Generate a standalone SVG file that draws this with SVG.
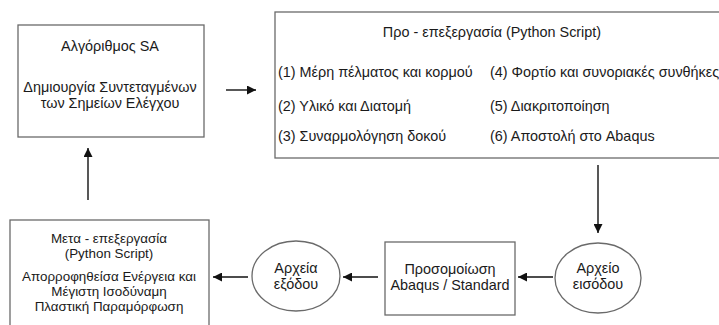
<svg xmlns="http://www.w3.org/2000/svg" width="719" height="325" viewBox="0 0 719 325">
<defs>
<style>
.n{fill:#fff;stroke:#6a6a6a;stroke-width:1.3}
.t{font-family:"Liberation Sans",Arial,sans-serif;font-size:14.4px;fill:#1a1a1a}
.s{font-size:13.4px}
.c{text-anchor:middle}
.e{stroke:#111;stroke-width:1.4;fill:none;marker-end:url(#ah)}
</style>
<marker id="ah" viewBox="0 0 10 10" refX="10" refY="5" markerWidth="9" markerHeight="9" markerUnits="userSpaceOnUse" orient="auto">
<path d="M0,0 L10,5 L0,10 z" fill="#111"/>
</marker>
</defs>
<rect width="719" height="325" fill="#fff"/>
<g id="sa">
<rect class="n" x="18" y="25" width="186" height="112"/>
<text class="t c" x="110" y="51">Αλγόριθμος SA</text>
<text class="t c" x="110" y="92">Δημιουργία Συντεταγμένων</text>
<text class="t c" x="110" y="108">των Σημείων Ελέγχου</text>
</g>
<g id="pre">
<rect class="n" x="275" y="12" width="470" height="146"/>
<text class="t c" x="492" y="37">Προ - επεξεργασία (Python Script)</text>
<text class="t" x="278" y="77">(1) Μέρη πέλματος και κορμού</text>
<text class="t" x="278" y="111">(2) Υλικό και Διατομή</text>
<text class="t" x="278" y="141">(3) Συναρμολόγηση δοκού</text>
<text class="t" x="490" y="77">(4) Φορτίο και συνοριακές συνθήκες</text>
<text class="t" x="490" y="111">(5) Διακριτοποίηση</text>
<text class="t" x="490" y="141">(6) Αποστολή στο Abaqus</text>
</g>
<g id="input">
<ellipse class="n" cx="598" cy="278" rx="43" ry="35"/>
<text class="t c" x="598" y="273">Αρχείο</text>
<text class="t c" x="598" y="289">εισόδου</text>
</g>
<g id="sim">
<rect class="n" x="385" y="242" width="130" height="73"/>
<text class="t c" x="450" y="274">Προσομοίωση</text>
<text class="t c" x="450" y="290">Abaqus / Standard</text>
</g>
<g id="output">
<ellipse class="n" cx="296" cy="276" rx="44" ry="35"/>
<text class="t c" x="296" y="273">Αρχεία</text>
<text class="t c" x="296" y="289">εξόδου</text>
</g>
<g id="post">
<rect class="n" x="10" y="220" width="199" height="115"/>
<text class="t s c" x="109" y="243">Μετα - επεξεργασία</text>
<text class="t s c" x="109" y="258">(Python Script)</text>
<text class="t s c" x="109" y="281">Απορροφηθείσα Ενέργεια και</text>
<text class="t s c" x="109" y="296">Μέγιστη Ισοδύναμη</text>
<text class="t s c" x="109" y="311">Πλαστική Παραμόρφωση</text>
</g>
<g id="connectors">
<line class="e" x1="226" y1="90" x2="256" y2="90"/>
<line class="e" x1="598" y1="165" x2="598" y2="233"/>
<line class="e" x1="553" y1="277" x2="518" y2="277"/>
<line class="e" x1="378" y1="277" x2="343" y2="277"/>
<line class="e" x1="248" y1="277" x2="213" y2="277"/>
<line class="e" x1="88" y1="200" x2="88" y2="148"/>
</g>
</svg>
